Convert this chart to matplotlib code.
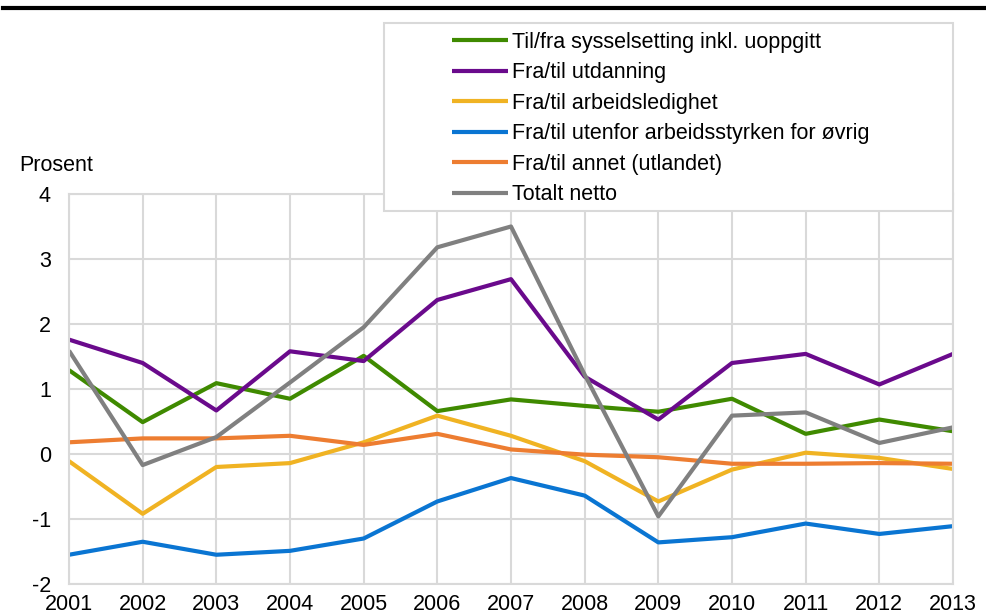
import matplotlib
matplotlib.use("Agg")
import matplotlib.pyplot as plt
from matplotlib.lines import Line2D
from matplotlib.patches import Rectangle

plt.rcParams['font.family'] = ['Liberation Sans', 'DejaVu Sans']
plt.rcParams['axes.unicode_minus'] = False

years = list(range(2001, 2014))

sysselsetting = [1.29, 0.49, 1.09, 0.85, 1.51, 0.66, 0.84, 0.74, 0.65, 0.85, 0.31, 0.53, 0.35]
utdanning = [1.76, 1.40, 0.67, 1.58, 1.43, 2.37, 2.69, 1.19, 0.53, 1.40, 1.54, 1.07, 1.54]
arbeidsledighet = [-0.11, -0.92, -0.20, -0.14, 0.18, 0.59, 0.28, -0.11, -0.73, -0.24, 0.02, -0.06, -0.23]
utenfor = [-1.55, -1.35, -1.55, -1.49, -1.30, -0.73, -0.37, -0.64, -1.36, -1.28, -1.07, -1.23, -1.11]
annet = [0.18, 0.24, 0.24, 0.28, 0.14, 0.31, 0.07, -0.01, -0.05, -0.15, -0.15, -0.14, -0.15]
totalt = [1.59, -0.17, 0.26, 1.10, 1.95, 3.18, 3.50, 1.22, -0.96, 0.59, 0.64, 0.17, 0.41]

series = [
    ("Til/fra sysselsetting inkl. uoppgitt", sysselsetting, "#3f8a00"),
    ("Fra/til utdanning", utdanning, "#6a0a8c"),
    ("Fra/til arbeidsledighet", arbeidsledighet, "#f0b323"),
    ("Fra/til utenfor arbeidsstyrken for øvrig", utenfor, "#0a75d2"),
    ("Fra/til annet (utlandet)", annet, "#ed7d31"),
    ("Totalt netto", totalt, "#808080"),
]

W, H = 987, 616
fig = plt.figure(figsize=(W / 100, H / 100), dpi=100)
ax = fig.add_axes([69 / W, 1 - 584 / H, (953 - 69) / W, (584 - 194) / H])

for label, vals, col in series:
    ax.plot(years, vals, color=col, lw=3, label=label, solid_capstyle='butt')

ax.set_xlim(2001, 2013)
ax.set_ylim(-2, 4)
ax.set_xticks(years)
ax.set_yticks(range(-2, 5))
ax.grid(True, color="#d9d9d9", lw=1.5)
ax.set_axisbelow(True)
for s in ax.spines.values():
    s.set_color("#d9d9d9")
    s.set_linewidth(1.5)
ax.tick_params(length=0, labelsize=15.5)
ax.tick_params(axis='y', pad=13)
ax.tick_params(axis='x', pad=7)

fig.text(19 / W, 1 - 166 / H, "Prosent", fontsize=15.5, ha='left', va='center')

# svart strek øverst
fig.add_artist(Line2D([3 / W, 985 / W], [1 - 8 / H, 1 - 8 / H], color='black', lw=3,
                      transform=fig.transFigure))

# legendeboks
fig.add_artist(Rectangle((384 / W, 1 - 211 / H), (953 - 384) / W, (211 - 23) / H,
                         transform=fig.transFigure, facecolor='white',
                         edgecolor='#d9d9d9', lw=1.5, zorder=4))
handles, labels = ax.get_legend_handles_labels()
leg = fig.legend(handles, labels, loc='upper left', bbox_to_anchor=(452 / W, 1 - 32 / H),
                 frameon=False, fontsize=15.5, borderpad=0, borderaxespad=0,
                 handlelength=2.6, handletextpad=0.2, labelspacing=0.44)
leg.set_zorder(5)

fig.savefig("out.png", dpi=100)
